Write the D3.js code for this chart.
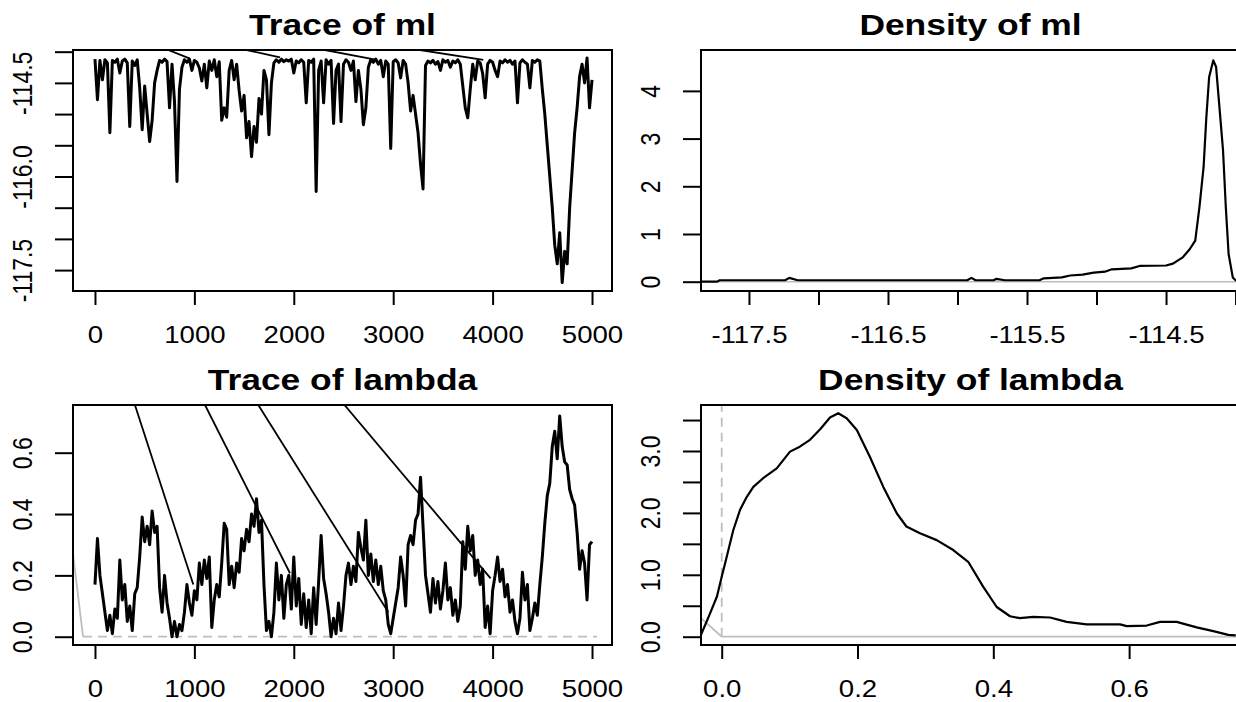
<!DOCTYPE html>
<html>
<head>
<meta charset="utf-8">
<script src="https://cdn.jsdelivr.net/npm/d3@7"></script>
<style>
body { margin: 0; background: #fff; }
text { font-family: "Liberation Sans", Arial, Helvetica, sans-serif; }
</style>
</head>
<body>
<svg id="chart" width="1236" height="702"></svg>
<script>
// ---- data ----
// traces are sampled every 25 iterations, 0..5000
var iterStep = 25;

var mlTrace = [
 -114.12,-114.77,-114.14,-114.45,-114.13,-114.18,-115.30,-114.14,-114.17,-114.12,
 -114.34,-114.15,-114.12,-114.18,-115.20,-114.15,-114.22,-114.13,-114.58,-115.25,
 -114.55,-115.00,-115.44,-115.10,-114.50,-114.30,-114.14,-114.17,-114.12,-114.16,
 -114.90,-114.20,-114.80,-116.08,-114.60,-114.25,-114.13,-114.17,-114.12,-114.30,
 -114.14,-114.17,-114.26,-114.47,-114.20,-114.58,-114.15,-114.30,-114.13,-114.40,
 -114.16,-115.10,-114.90,-115.05,-114.30,-114.14,-114.45,-114.20,-114.62,-114.95,
 -114.70,-115.38,-115.12,-115.68,-115.20,-115.45,-114.75,-115.00,-114.30,-114.45,
 -115.33,-114.50,-114.18,-114.13,-114.17,-114.12,-114.16,-114.13,-114.15,-114.12,
 -114.34,-114.15,-114.18,-114.13,-114.17,-114.82,-114.14,-114.17,-114.12,-116.24,
 -114.30,-114.15,-114.82,-114.13,-114.20,-114.14,-115.15,-114.30,-114.20,-115.12,
 -114.20,-114.13,-114.17,-114.30,-114.15,-114.80,-114.30,-114.60,-115.17,-114.90,
 -114.25,-114.13,-114.17,-114.12,-114.20,-114.14,-114.40,-114.15,-114.20,-115.55,
 -114.16,-114.13,-114.18,-114.42,-114.14,-114.20,-114.50,-114.95,-114.70,-115.00,
 -115.30,-115.80,-116.20,-114.22,-114.15,-114.18,-114.14,-114.20,-114.16,-114.30,
 -114.13,-114.17,-114.14,-114.25,-114.15,-114.18,-114.13,-114.20,-114.55,-114.90,
 -115.06,-114.60,-114.20,-114.45,-114.15,-114.18,-114.35,-114.74,-114.20,-114.14,
 -114.17,-114.30,-114.40,-114.15,-114.18,-114.13,-114.17,-114.14,-114.20,-114.15,
 -114.82,-114.18,-114.13,-114.17,-114.20,-114.58,-114.14,-114.17,-114.13,-114.15,
 -114.60,-115.00,-115.50,-116.00,-116.50,-117.10,-117.40,-116.90,-117.70,-117.20,
 -117.40,-116.50,-115.90,-115.30,-114.90,-114.40,-114.20,-114.50,-114.10,-114.90,
 -114.45
];

var lambdaTrace = [
 0.17,0.32,0.20,0.14,0.08,0.02,0.07,0.01,0.09,0.06,
 0.25,0.12,0.17,0.05,0.10,0.02,0.14,0.16,0.26,0.39,
 0.31,0.36,0.30,0.41,0.34,0.36,0.16,0.08,0.20,0.11,
 0.06,0.00,0.05,0.00,0.04,0.02,0.08,0.17,0.11,0.07,
 0.15,0.12,0.24,0.17,0.25,0.19,0.26,0.03,0.12,0.17,
 0.13,0.24,0.37,0.35,0.17,0.23,0.16,0.24,0.21,0.32,
 0.28,0.35,0.31,0.40,0.36,0.45,0.34,0.38,0.17,0.02,
 0.05,0.00,0.08,0.24,0.12,0.20,0.06,0.17,0.20,0.09,
 0.26,0.10,0.19,0.04,0.14,0.03,0.12,0.01,0.16,0.04,
 0.18,0.33,0.19,0.14,0.08,0.00,0.06,0.01,0.11,0.02,
 0.10,0.20,0.24,0.17,0.23,0.18,0.34,0.29,0.25,0.38,
 0.20,0.27,0.18,0.25,0.17,0.23,0.15,0.12,0.04,0.01,
 0.06,0.11,0.16,0.26,0.20,0.10,0.30,0.33,0.30,0.38,
 0.40,0.52,0.36,0.20,0.14,0.08,0.19,0.11,0.18,0.09,
 0.15,0.24,0.12,0.16,0.07,0.12,0.05,0.10,0.31,0.22,
 0.36,0.28,0.33,0.20,0.25,0.17,0.22,0.03,0.10,0.01,
 0.15,0.20,0.26,0.18,0.22,0.13,0.17,0.08,0.12,0.05,
 0.01,0.06,0.21,0.12,0.17,0.02,0.06,0.11,0.07,0.17,
 0.26,0.37,0.46,0.50,0.62,0.67,0.58,0.72,0.62,0.57,
 0.56,0.48,0.45,0.43,0.34,0.22,0.28,0.24,0.12,0.30,
 0.31
];

// straight segments that run in from above the plot (iteration, value)
var mlJumpFrom = [737, 1526, 2314, 3270];
var mlJumpTo = [956, 1861, 2834, 3906];
var mlJumpVal = [-114.11, -114.09, -114.13, -114.13];

var lambdaJumpFrom = [402, 1107, 1643, 2510];
var lambdaJumpTo = [989, 1962, 2951, 3980];
var lambdaJumpVal = [0.17, 0.207, 0.08, 0.19];

// grey reference lines in the lambda trace
var lambdaGreyX = [-221, -120];
var lambdaGreyY = [0.27, 0];
var lambdaDashX = [-120, 5050];

// kernel density curves
var mlDensX = [-117.845,-117.73,-117.71,-117.24,-117.21,-117.15,-115.93,-115.90,-115.87,-115.74,
 -115.72,-115.66,-115.41,-115.38,-115.25,-115.19,-115.10,-115.02,-114.94,-114.89,
 -114.75,-114.69,-114.50,-114.45,-114.38,-114.33,-114.29,-114.26,-114.23,-114.21,
 -114.19,-114.16,-114.14,-114.12,-114.09,-114.07,-114.05,-114.02,-114.00,-113.97];
var mlDensY = [0,0,0.03,0.03,0.08,0.03,0.03,0.08,0.03,0.03,
 0.06,0.03,0.03,0.07,0.09,0.13,0.15,0.19,0.21,0.26,
 0.28,0.33,0.34,0.38,0.51,0.68,0.86,1.56,2.4,3.45,
 4.29,4.64,4.5,3.8,2.75,1.56,0.58,0.09,0.03,0];

var lambdaDensX = [-0.0305,-0.017,-0.007,0,0.0074,0.017,0.027,0.037,0.0466,0.061,
 0.081,0.1006,0.115,0.130,0.145,0.1595,0.1717,0.184,0.199,0.218,
 0.238,0.258,0.272,0.292,0.3166,0.341,0.363,0.385,0.405,0.4246,
 0.439,0.459,0.4835,0.508,0.5375,0.5866,0.5965,0.626,0.6455,0.670,
 0.6995,0.724,0.746,0.757];
var lambdaDensY = [0.03,0.38,0.65,0.97,1.29,1.72,2.05,2.26,2.42,2.56,
 2.72,2.99,3.07,3.18,3.35,3.54,3.61,3.53,3.34,2.91,
 2.42,1.99,1.78,1.67,1.56,1.40,1.21,0.81,0.48,0.33,
 0.30,0.32,0.31,0.24,0.20,0.20,0.17,0.18,0.24,0.24,
 0.15,0.09,0.03,0.02];
var lambdaDensGreyX = [-0.0305, 0];
var lambdaDensGreyY = [0.30, 0];

// axis ticks (labels that R dropped for overlap are blank)
var traceTicks = [0, 1000, 2000, 3000, 4000, 5000];
var mlTicks = [-117.5, -117, -116.5, -116, -115.5, -115, -114.5, -114];
var mlTickLabels = ["-117.5", "", "", "-116.0", "", "", "-114.5", ""];
var mlDensLabelsX = ["-117.5", "", "-116.5", "", "-115.5", "", "-114.5", ""];
var lambdaTicks = [0, 0.2, 0.4, 0.6];
var lambdaTickLabels = ["0.0", "0.2", "0.4", "0.6"];
var mlDensTicksY = [0, 1, 2, 3, 4];
var lambdaDensTicksY = [0, 0.5, 1, 1.5, 2, 2.5, 3, 3.5];
var lambdaDensLabelsY = ["0.0", "", "1.0", "", "2.0", "", "3.0", ""];

// ---- layout ----
var svg = d3.select("#chart");
var stretch = 1.2;   // the original raster is wider than tall
var colL = [73, 612], colR = [701, 1240];
var rowT = [50, 291], rowB = [405, 645];

function labeller(ticks, labels) {
  return function(d) { return labels[ticks.indexOf(d)]; };
}

function panel(id, title, xr, yr, xdom, ydom, xticks, xfmt, yticks, yfmt) {
  var x = d3.scaleLinear().domain(xdom).range(xr);
  var y = d3.scaleLinear().domain(ydom).range([yr[1], yr[0]]);
  var g = svg.append("g");

  g.append("clipPath").attr("id", id)
    .append("rect").attr("x", xr[0]).attr("y", yr[0])
    .attr("width", xr[1] - xr[0]).attr("height", yr[1] - yr[0]);

  var plot = g.append("g").attr("clip-path", "url(#" + id + ")");

  // x axis
  var xa = g.append("g").attr("transform", "translate(0," + yr[1] + ")")
    .call(d3.axisBottom(x).tickValues(xticks).tickFormat(xfmt).tickSizeInner(14).tickSizeOuter(0));
  xa.select(".domain").remove();
  xa.attr("font-size", 23).attr("font-family", null);
  xa.selectAll("line").attr("stroke-width", 2);
  xa.selectAll("text").attr("y", null).attr("dy", null)
    .attr("transform", "translate(0,52) scale(" + stretch + ",1)");

  // y axis
  var ya = g.append("g").attr("transform", "translate(" + xr[0] + ",0)")
    .call(d3.axisLeft(y).tickValues(yticks).tickFormat(yfmt).tickSizeInner(18).tickSizeOuter(0));
  ya.select(".domain").remove();
  ya.attr("font-size", 23).attr("font-family", null);
  ya.selectAll("line").attr("stroke-width", 2);
  ya.selectAll("text").attr("x", null).attr("dy", null).attr("text-anchor", "middle")
    .attr("transform", "translate(-41,0) scale(" + stretch + ",1) rotate(-90)");

  // box
  g.append("rect").attr("x", xr[0]).attr("y", yr[0])
    .attr("width", xr[1] - xr[0]).attr("height", yr[1] - yr[0])
    .attr("fill", "none").attr("stroke", "#000").attr("stroke-width", 2);

  g.append("text")
    .attr("transform", "translate(" + ((xr[0] + xr[1]) / 2) + "," + (yr[0] - 15) + ") scale(" + stretch + ",1)")
    .attr("text-anchor", "middle").attr("font-weight", "bold").attr("font-size", 29.5)
    .text(title);

  return { x: x, y: y, plot: plot };
}

function drawLine(p, xs, ys, color, width, dash) {
  var line = d3.line().x(function(d) { return p.x(d[0]); }).y(function(d) { return p.y(d[1]); });
  p.plot.append("path")
    .datum(d3.zip(xs, ys))
    .attr("d", line)
    .attr("fill", "none")
    .attr("stroke", color)
    .attr("stroke-width", width)
    .attr("stroke-linejoin", "round")
    .attr("stroke-dasharray", dash || null);
}

function drawJumps(p, from, to, vals) {
  var top = p.y.domain()[1];
  for (var i = 0; i < from.length; i++) {
    drawLine(p, [from[i], to[i]], [top, vals[i]], "#000", 1.8);
  }
}

var iters = d3.range(0, mlTrace.length).map(function(i) { return i * iterStep; });
var grey = "#bebebe";

// Trace of ml
var p1 = panel("c1", "Trace of ml", colL, rowT, [-221, 5201], [-117.835, -113.973],
  traceTicks, d3.format("d"), mlTicks, labeller(mlTicks, mlTickLabels));
drawJumps(p1, mlJumpFrom, mlJumpTo, mlJumpVal);
drawLine(p1, iters, mlTrace, "#000", 3);

// Density of ml
var p2 = panel("c2", "Density of ml", colR, rowT, [-117.845, -113.968], [-0.195, 4.857],
  mlTicks, labeller(mlTicks, mlDensLabelsX), mlDensTicksY, d3.format("d"));
drawLine(p2, [-117.845, -113.968], [0, 0], grey, 1.5);
drawLine(p2, mlDensX, mlDensY, "#000", 2.2);

// Trace of lambda
var p3 = panel("c3", "Trace of lambda", colL, rowB, [-221, 5201], [-0.027, 0.7555],
  traceTicks, d3.format("d"), lambdaTicks, labeller(lambdaTicks, lambdaTickLabels));
drawLine(p3, lambdaGreyX, lambdaGreyY, grey, 1.8);
drawLine(p3, lambdaDashX, [0, 0], grey, 1.8, "9,6");
drawJumps(p3, lambdaJumpFrom, lambdaJumpTo, lambdaJumpVal);
drawLine(p3, iters, lambdaTrace, "#000", 3);

// Density of lambda
var p4 = panel("c4", "Density of lambda", colR, rowB, [-0.0305, 0.7633], [-0.134, 3.743],
  lambdaTicks, labeller(lambdaTicks, lambdaTickLabels),
  lambdaDensTicksY, labeller(lambdaDensTicksY, lambdaDensLabelsY));
drawLine(p4, [0, 0.7633], [0, 0], grey, 1.8);
drawLine(p4, lambdaDensGreyX, lambdaDensGreyY, grey, 1.8);
drawLine(p4, [0, 0], [0, 3.743], grey, 1.8, "9,6");
drawLine(p4, lambdaDensX, lambdaDensY, "#000", 2.2);
</script>
</body>
</html>
